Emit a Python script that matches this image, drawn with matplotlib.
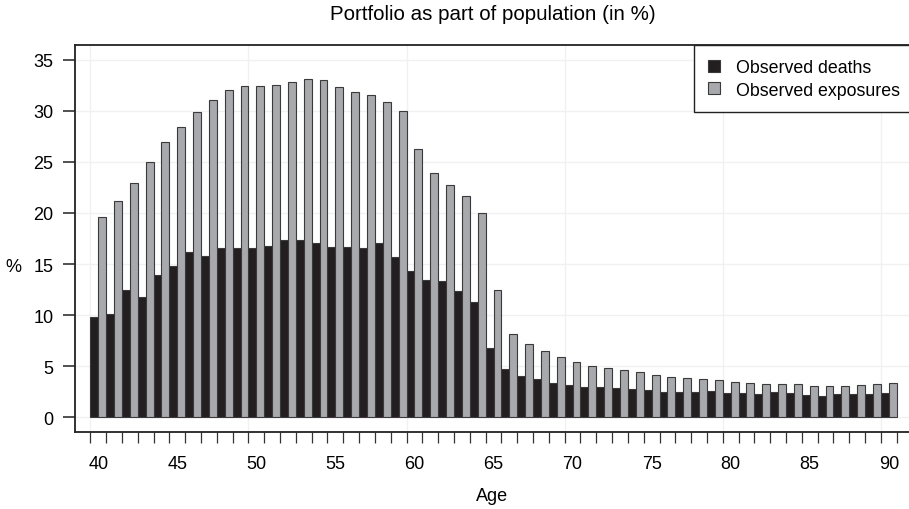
import matplotlib
matplotlib.use("Agg")
import matplotlib.pyplot as plt
import numpy as np
from matplotlib.patches import Patch

plt.rcParams['font.family'] = ['Liberation Sans', 'DejaVu Sans']

ages = list(range(40, 91))
deaths = [9.8, 10.1, 12.5, 11.8, 13.9, 14.8, 16.2, 15.8, 16.6, 16.6,
          16.6, 16.8, 17.4, 17.4, 17.1, 16.7, 16.7, 16.6, 17.1, 15.7,
          14.3, 13.4, 13.3, 12.4, 11.3, 6.8, 4.7, 4.0, 3.75, 3.4,
          3.15, 2.95, 2.95, 2.85, 2.8, 2.65, 2.5, 2.45, 2.5, 2.55,
          2.4, 2.4, 2.3, 2.45, 2.4, 2.2, 2.1, 2.25, 2.3, 2.25, 2.4]
exposures = [19.6, 21.2, 22.9, 25.0, 26.95, 28.45, 29.85, 31.1, 32.0, 32.4,
             32.4, 32.5, 32.8, 33.1, 33.05, 32.35, 31.85, 31.5, 30.9, 29.95,
             26.3, 23.9, 22.75, 21.7, 19.95, 12.5, 8.2, 7.2, 6.5, 5.95,
             5.45, 5.05, 4.8, 4.6, 4.4, 4.1, 3.95, 3.8, 3.75, 3.7,
             3.5, 3.35, 3.3, 3.3, 3.25, 3.1, 3.05, 3.1, 3.15, 3.3, 3.4]
series_labels = ["Observed deaths", "Observed exposures"]
xtick_labels = [40, 45, 50, 55, 60, 65, 70, 75, 80, 85, 90]
ytick_labels = [0, 5, 10, 15, 20, 25, 30, 35]

black = "#231f20"
grey = "#a7a9ac"
edge = "#3a3a3a"

W, H = 909, 510
fig = plt.figure(figsize=(W / 100, H / 100), dpi=100)
ax = fig.add_axes([75 / W, 1 - 432.7 / H, (W - 75) / W, (432.7 - 46) / H])

x = np.array(ages, dtype=float)
ax.bar(x - 0.25, deaths, width=0.5, color=black, edgecolor=edge, linewidth=0.8, zorder=3)
ax.bar(x + 0.25, exposures, width=0.5, color=grey, edgecolor=edge, linewidth=0.8, zorder=3)

ax.set_xlim(38.53, 91.28)
ax.set_ylim(-1.409, 36.44)

# grid
for yv in ytick_labels:
    ax.axhline(yv, color="#f1f1f1", lw=1.0, zorder=0)
for gx in np.arange(39.5, 91, 10):
    ax.axvline(gx, color="#f1f1f1", lw=1.0, zorder=0)

ax.set_yticks(ytick_labels)
ax.set_yticklabels([str(v) for v in ytick_labels], fontsize=13)
ax.tick_params(axis='y', length=8.6, width=1.2, color="#333333", pad=7)

ax.set_xticks(xtick_labels)
ax.set_xticklabels([str(v) for v in xtick_labels], fontsize=13)
ax.set_xticks(np.arange(39.5, 91.0, 1.0), minor=True)
ax.tick_params(axis='x', which='major', length=0, pad=17)
ax.tick_params(axis='x', which='minor', length=8, width=0.9, color="#333333")

for s in ['left', 'bottom', 'top']:
    ax.spines[s].set_color("#222222")
    ax.spines[s].set_linewidth(1.3)
ax.spines['right'].set_visible(False)

fig.text(493 / W, 1 - 14 / H, "Portfolio as part of population (in %)",
         ha='center', va='center', fontsize=14.8)
fig.text(492 / W, 1 - 497 / H, "Age", ha='center', va='center', fontsize=13)
fig.text(13 / W, 1 - 268 / H, "%", ha='center', va='center', fontsize=13)

handles = [Patch(facecolor=black, edgecolor=edge, linewidth=0.8),
           Patch(facecolor=grey, edgecolor=edge, linewidth=0.8)]
leg = ax.legend(handles, series_labels, loc='upper left',
                bbox_to_anchor=(694 / W, 1 - 46 / H), bbox_transform=fig.transFigure,
                fontsize=12.8, frameon=True, fancybox=False, framealpha=1,
                edgecolor="#222222", borderpad=0.78, handlelength=0.66,
                handleheight=0.66, handletextpad=0.95, labelspacing=0.32,
                borderaxespad=0)
leg.get_frame().set_linewidth(1.0)
leg.set_zorder(5)

fig.savefig("out.png", dpi=100)
